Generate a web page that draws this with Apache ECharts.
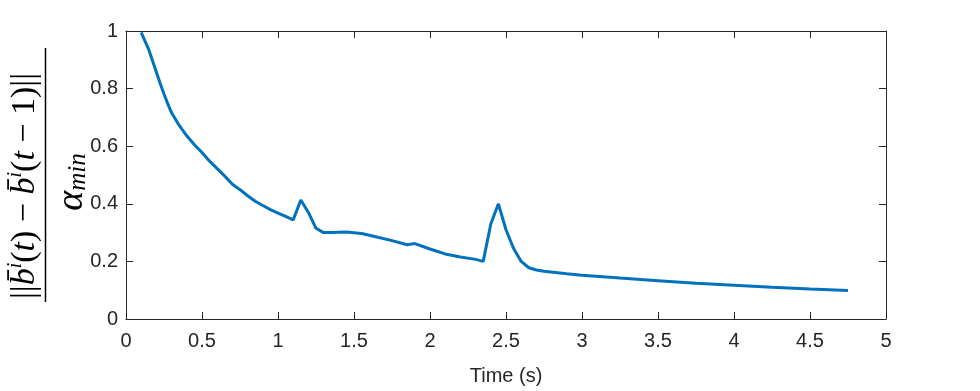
<!DOCTYPE html>
<html>
<head>
<meta charset="utf-8">
<script src="https://cdn.jsdelivr.net/npm/echarts@6/dist/echarts.min.js"></script>
<style>
html, body { margin: 0; padding: 0; background: #fff; }
#chart { width: 980px; height: 391px; }
</style>
</head>
<body>
<div id="chart"></div>
<script>
// values
var timeVals = [0.1, 0.125, 0.15, 0.175, 0.2, 0.225, 0.25, 0.275, 0.3, 0.35, 0.4, 0.45, 0.5, 0.55, 0.6, 0.65, 0.7, 0.75, 0.8, 0.85, 0.9, 0.95, 1.0, 1.05, 1.1, 1.15, 1.2, 1.25, 1.3, 1.35, 1.45, 1.55, 1.65, 1.75, 1.85, 1.9, 2.0, 2.1, 2.2, 2.3, 2.35, 2.4, 2.45, 2.5, 2.55, 2.6, 2.65, 2.7, 2.75, 2.9, 3.0, 3.25, 3.5, 3.75, 4.0, 4.25, 4.5, 4.75];
var ratioVals = [0.995, 0.965, 0.935, 0.896, 0.857, 0.818, 0.781, 0.747, 0.716, 0.672, 0.636, 0.605, 0.578, 0.548, 0.522, 0.496, 0.468, 0.449, 0.428, 0.409, 0.394, 0.38, 0.368, 0.356, 0.344, 0.413, 0.37, 0.315, 0.30, 0.30, 0.302, 0.297, 0.285, 0.272, 0.258, 0.262, 0.243, 0.226, 0.215, 0.207, 0.20, 0.33, 0.40, 0.31, 0.245, 0.20, 0.178, 0.17, 0.166, 0.157, 0.152, 0.142, 0.133, 0.124, 0.117, 0.11, 0.104, 0.099];
var xTicks = [0, 5, 0.5];   // min, max, interval
var yTicks = [0, 1, 0.2];

var axisColor = '#262626';
var tickFont = 'Liberation Sans, Arial, sans-serif';

var chart = echarts.init(document.getElementById('chart'));

var seriesData = timeVals.map(function (t, i) {
	return [t, ratioVals[i]];
});

function xAxisCfg(pos, showLabel) {
	return {
		type: 'value',
		position: pos,
		min: xTicks[0],
		max: xTicks[1],
		interval: xTicks[2],
		name: showLabel ? 'Time (s)' : '',
		nameLocation: 'middle',
		nameGap: 47,
		nameTextStyle: { color: axisColor, fontSize: 20, fontFamily: tickFont },
		axisLine: { show: true, onZero: false, lineStyle: { color: axisColor, width: 1 } },
		axisTick: { show: true, inside: true, length: 7, lineStyle: { color: axisColor } },
		axisLabel: { show: showLabel, color: axisColor, fontSize: 20, fontFamily: tickFont, margin: 12 },
		splitLine: { show: false }
	};
}
function yAxisCfg(pos, showLabel) {
	return {
		type: 'value',
		position: pos,
		min: yTicks[0],
		max: yTicks[1],
		interval: yTicks[2],
		axisLine: { show: true, onZero: false, lineStyle: { color: axisColor, width: 1 } },
		axisTick: { show: true, inside: true, length: 7, lineStyle: { color: axisColor } },
		axisLabel: { show: showLabel, color: axisColor, fontSize: 20, fontFamily: tickFont, margin: 8 },
		splitLine: { show: false }
	};
}

var option = {
	backgroundColor: '#ffffff',
	animation: false,
	grid: { left: 126, right: 94, top: 31, bottom: 70 },
	xAxis: [xAxisCfg('bottom', true), xAxisCfg('top', false)],
	yAxis: [yAxisCfg('left', true), yAxisCfg('right', false)],
	series: [{
		type: 'line',
		xAxisIndex: 0,
		yAxisIndex: 0,
		data: seriesData,
		showSymbol: false,
		smooth: false,
		lineStyle: { color: '#0072BD', width: 3 }
	}],
	graphic: [
		{
			// numerator
			type: 'text',
			x: 25, y: 186,
			rotation: Math.PI / 2,
			style: {
				text: '{p|||}{b|b̄}{s|i}{p|(}{b|t}{p|) − }{b|b̄}{s|i}{p|(}{b|t}{p| − 1)||}',
				align: 'center',
				verticalAlign: 'middle',
				fill: '#000',
				rich: {
					p: { fontFamily: 'Liberation Serif', fontSize: 34, lineHeight: 38 },
					b: { fontFamily: 'Liberation Serif', fontStyle: 'italic', fontSize: 34, lineHeight: 38 },
					s: { fontFamily: 'Liberation Serif', fontStyle: 'italic', fontSize: 20, lineHeight: 38, verticalAlign: 'top' }
				}
			}
		},
		{
			type: 'line',
			shape: { x1: 45.5, y1: 48, x2: 45.5, y2: 302 },
			style: { stroke: '#000', lineWidth: 1.5 }
		},
		{
			// denominator
			type: 'text',
			x: 72, y: 182,
			rotation: Math.PI / 2,
			style: {
				text: '{a|α}{s|min}',
				align: 'center',
				verticalAlign: 'middle',
				fill: '#000',
				rich: {
					a: { fontFamily: 'Liberation Serif', fontStyle: 'italic', fontSize: 38, lineHeight: 38 },
					s: { fontFamily: 'Liberation Serif', fontStyle: 'italic', fontSize: 25, lineHeight: 38, verticalAlign: 'bottom' }
				}
			}
		}
	]
};

chart.setOption(option);
</script>
</body>
</html>
